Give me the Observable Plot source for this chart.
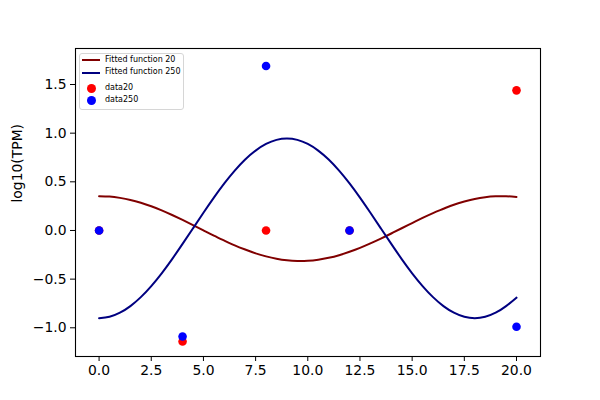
<!DOCTYPE html>
<html><head><meta charset="utf-8">
<script src="https://cdn.jsdelivr.net/npm/d3@7"></script>
<script src="https://cdn.jsdelivr.net/npm/@observablehq/plot@0.6"></script>
<style>
body{margin:0;background:#fff;}
#wrap{position:relative;width:600px;height:400px;font-family:"DejaVu Sans",sans-serif;}
.legend{position:absolute;left:79px;top:52.5px;width:105px;height:57px;border:1px solid #d6d6d6;border-radius:3px;background:rgba(255,255,255,0.8);box-sizing:border-box;}
.lg-line{position:absolute;left:2px;width:18px;height:2px;}
.lg-dot{position:absolute;left:6.5px;width:9px;height:9px;border-radius:50%;}
.lg-text{position:absolute;left:25px;font-size:8px;line-height:8px;color:#000;white-space:nowrap;}
</style>
</head><body>
<div id="wrap"></div>
<script>
const curveX = [0,0.5,1,1.5,2,2.5,3,3.5,4,4.5,5,5.5,6,6.5,7,7.5,8,8.5,9,9.5,10,10.5,11,11.5,12,12.5,13,13.5,14,14.5,15,15.5,16,16.5,17,17.5,18,18.5,19,19.5,20];
const fit20 = [0.353,0.349,0.335,0.314,0.285,0.249,0.207,0.159,0.108,0.055,0.001,-0.053,-0.104,-0.153,-0.196,-0.235,-0.266,-0.290,-0.306,-0.313,-0.311,-0.300,-0.281,-0.254,-0.219,-0.179,-0.133,-0.084,-0.031,0.023,0.076,0.129,0.179,0.223,0.265,0.297,0.324,0.342,0.351,0.352,0.344];
const fit250 = [-0.901,-0.887,-0.845,-0.777,-0.685,-0.571,-0.440,-0.294,-0.138,0.022,0.182,0.338,0.484,0.615,0.729,0.821,0.889,0.931,0.945,0.931,0.889,0.821,0.729,0.615,0.484,0.338,0.182,0.022,-0.138,-0.294,-0.440,-0.571,-0.685,-0.777,-0.845,-0.887,-0.901,-0.887,-0.845,-0.777,-0.690];
// Observed data
const dataX = [0,4,8,12,20];
const data20 = [0,-1.14,0,0,1.44];
const data250 = [0,-1.09,1.69,0,-0.99];
// Ticks
const xTicks = [0,2.5,5,7.5,10,12.5,15,17.5,20];
const yTicks = [-1,-0.5,0,0.5,1,1.5];
const yLabel = "log10(TPM)";
const seriesNames = ["Fitted function 20","Fitted function 250","data20","data250"];
const colors = {fit20:"#800000", fit250:"#000080", d20:"#ff0000", d250:"#0000ff"};

const curve20 = curveX.map((x,i)=>({x, y:fit20[i]}));
const curve250 = curveX.map((x,i)=>({x, y:fit250[i]}));
const pts20 = dataX.map((x,i)=>({x, y:data20[i]}));
const pts250 = dataX.map((x,i)=>({x, y:data250[i]}));
const fmt = d3.format(".1f");

const chart = Plot.plot({
  width:600, height:400,
  marginLeft:75, marginRight:60, marginTop:48, marginBottom:44,
  style:{fontFamily:"DejaVu Sans, sans-serif", fontSize:"13.9px", color:"#000", background:"#fff", overflow:"visible"},
  x:{domain:[-1.13,21.15]},
  y:{domain:[-1.295,1.87]},
  marks:[
    Plot.axisX({ticks:xTicks, tickFormat:fmt, tickSize:5, tickPadding:4, label:null, stroke:"#000", fill:"#000"}),
    Plot.axisY({ticks:yTicks, tickFormat:fmt, tickSize:5, tickPadding:4, label:null, stroke:"#000", fill:"#000"}),
    Plot.dot(pts20, {x:"x", y:"y", r:4.3, fill:colors.d20}),
    Plot.dot(pts250, {x:"x", y:"y", r:4.3, fill:colors.d250}),
    Plot.line(curve20, {x:"x", y:"y", stroke:colors.fit20, strokeWidth:2, curve:"natural"}),
    Plot.line(curve250, {x:"x", y:"y", stroke:colors.fit250, strokeWidth:2, curve:"natural"}),
    Plot.frame({stroke:"#000", strokeWidth:1.1}),
    Plot.text([yLabel], {frameAnchor:"left", text:d=>d, rotate:-90, dx:-58, fontSize:13.9, fill:"#000"})
  ]
});
const wrap = document.getElementById("wrap");
wrap.appendChild(chart);

// Legend overlay
const lg = document.createElement("div");
lg.className = "legend";
const rows = [
  {name:seriesNames[0], kind:"line", color:colors.fit20, cy:6.8},
  {name:seriesNames[1], kind:"line", color:colors.fit250, cy:19.3},
  {name:seriesNames[2], kind:"dot", color:colors.d20, cy:34.7},
  {name:seriesNames[3], kind:"dot", color:colors.d250, cy:46.8}
];
rows.forEach(r=>{
  const sw = document.createElement("div");
  if(r.kind==="line"){ sw.className="lg-line"; sw.style.top=(r.cy-1)+"px"; }
  else { sw.className="lg-dot"; sw.style.top=(r.cy-4.5)+"px"; }
  sw.style.background = r.color;
  lg.appendChild(sw);
  const t = document.createElement("div");
  t.className="lg-text"; t.textContent=r.name; t.style.top=(r.cy-4.5)+"px";
  lg.appendChild(t);
});
wrap.appendChild(lg);
</script>
</body></html>
